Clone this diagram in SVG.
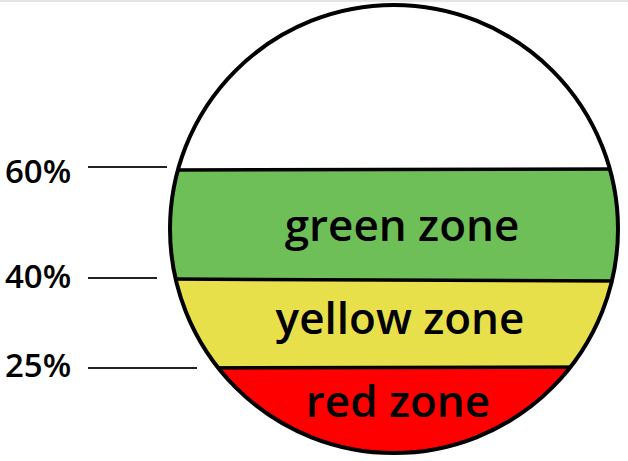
<svg xmlns="http://www.w3.org/2000/svg" width="628" height="461" viewBox="0 0 628 461">
<style>
.zone{font-family:"Open Sans","Liberation Sans",sans-serif;font-weight:600;font-size:44px;fill:#000;text-anchor:middle}
.pct{font-family:"Open Sans","Liberation Sans",sans-serif;font-weight:600;font-size:33px;fill:#000}
.tick{stroke:#222;stroke-width:2}
.bound{stroke:#000;stroke-width:3.5}
</style>
<defs>
<clipPath id="c"><circle cx="394" cy="229" r="224"/></clipPath>
</defs>
<rect x="0" y="0" width="628" height="461" fill="#fff"/>
<rect x="0" y="0" width="628" height="2" fill="#e4e4e4"/>
<g id="circle">
<g clip-path="url(#c)">
<rect x="160" y="0" width="470" height="461" fill="#fff"/>
<rect id="green" x="160" y="170" width="470" height="110" fill="#6ebf58"/>
<rect id="yellow" x="160" y="280" width="470" height="88" fill="#e8e04b"/>
<rect id="red" x="160" y="368" width="470" height="100" fill="#ff0000"/>
<line class="bound" x1="160" y1="170" x2="630" y2="169"/>
<line class="bound" x1="160" y1="279" x2="630" y2="281"/>
<line class="bound" x1="160" y1="368" x2="630" y2="367"/>
</g>
<circle cx="394" cy="229" r="224" fill="none" stroke="#000" stroke-width="4"/>
</g>
<g id="labels">
<text class="zone" x="402" y="241">green zone</text>
<text class="zone" x="400" y="334">yellow zone</text>
<text class="zone" x="398" y="417">red zone</text>
</g>
<g id="connectors">
<line class="tick" x1="88" y1="167" x2="167" y2="167"/>
<line class="tick" x1="88" y1="278" x2="157" y2="278"/>
<line class="tick" x1="88" y1="368" x2="197" y2="368"/>
</g>
<g id="pcts">
<text class="pct" x="5" y="183">60%</text>
<text class="pct" x="5" y="288">40%</text>
<text class="pct" x="5" y="377">25%</text>
</g>
</svg>
